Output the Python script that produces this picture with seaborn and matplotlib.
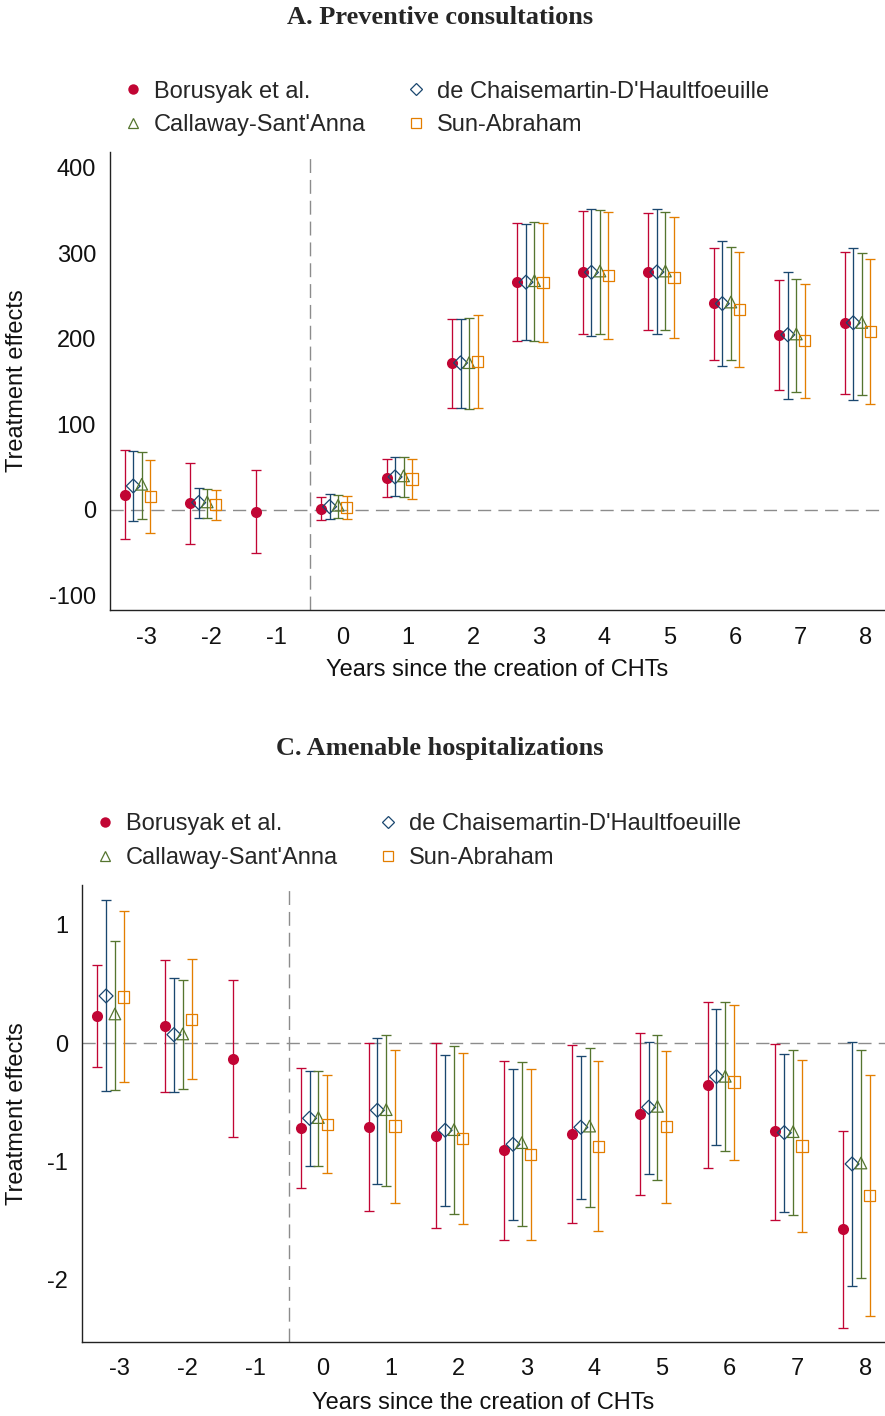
import numpy as np
import pandas as pd
import matplotlib
matplotlib.use("Agg")
import matplotlib.pyplot as plt
import seaborn as sns
from matplotlib.lines import Line2D

# ---------------- data ----------------
nan = np.nan
years = [-3, -2, -1, 0, 1, 2, 3, 4, 5, 6, 7, 8]
estimators = ["Borusyak et al.", "de Chaisemartin-D'Haultfoeuille",
              "Callaway-Sant'Anna", "Sun-Abraham"]

# A. Preventive consultations
bor_a = [17.6, 7.8, -2.0, 1.2, 37.8, 171.3, 266.2, 277.5, 277.9, 241.2, 204.6, 218.6]
bor_a_lo = [-34, -40, -50.7, -11.7, 15.2, 119, 197, 205.7, 209.6, 175.6, 140.5, 135.8]
bor_a_hi = [70, 55, 46.4, 14.8, 60, 222.5, 334.9, 349.3, 346.2, 306.4, 268.5, 301]
dcdh_a = [28, 8.6, nan, 3.9, 38.6, 171.7, 266, 277.5, 277.9, 241, 204.6, 218.6]
dcdh_a_lo = [-12.5, -9.8, nan, -10.5, 16.4, 119, 198.3, 203.7, 205.3, 168.6, 130, 128]
dcdh_a_hi = [69, 25.8, nan, 18.4, 61.3, 223.3, 334, 352, 351.6, 314.2, 278.3, 306]
cs_a = [30, 9.4, nan, 5.5, 39.8, 172, 267.7, 279, 279, 242.8, 205.5, 219]
cs_a_lo = [-11, -9, nan, -9.8, 15.6, 118, 197, 205.7, 209.6, 174.8, 138, 134.2]
cs_a_hi = [68, 25, nan, 17.5, 62.4, 224.5, 335.7, 350.5, 347.4, 307.5, 270.2, 299.8]
sa_a = [15.6, 6.2, nan, 3.1, 36.3, 173.3, 265.4, 273.6, 271.7, 234.2, 197.9, 208.8]
sa_a_lo = [-27, -11.7, nan, -11, 12.9, 119.4, 195.9, 200.2, 201, 167, 130.8, 123.8]
sa_a_hi = [58.5, 23.8, nan, 16.8, 60, 227.5, 335.3, 347.4, 342.3, 301.7, 264.3, 293.1]

# C. Amenable hospitalizations
bor_c = [0.231, 0.146, -0.13, -0.719, -0.707, -0.78, -0.904, -0.763, -0.6, -0.355, -0.744, -1.572]
bor_c_lo = [-0.2, -0.414, -0.792, -1.226, -1.417, -1.56, -1.665, -1.519, -1.285, -1.057, -1.49, -2.404]
bor_c_hi = [0.662, 0.704, 0.532, -0.211, 0.003, 0.006, -0.152, -0.011, 0.087, 0.346, -0.003, -0.738]
dcdh_c = [0.4, 0.073, nan, -0.634, -0.566, -0.735, -0.854, -0.71, -0.541, -0.282, -0.755, -1.02]
dcdh_c_lo = [-0.403, -0.408, nan, -1.04, -1.186, -1.375, -1.49, -1.316, -1.102, -0.856, -1.423, -2.054]
dcdh_c_hi = [1.209, 0.552, nan, -0.234, 0.048, -0.096, -0.217, -0.11, 0.011, 0.293, -0.09, 0.011]
cs_c = [0.248, 0.079, nan, -0.628, -0.561, -0.73, -0.84, -0.70, -0.533, -0.279, -0.747, -1.012]
cs_c_lo = [-0.397, -0.386, nan, -1.04, -1.203, -1.446, -1.547, -1.384, -1.152, -0.913, -1.451, -1.986]
cs_c_hi = [0.868, 0.532, nan, -0.234, 0.068, -0.025, -0.16, -0.04, 0.068, 0.349, -0.059, -0.053]
sa_c = [0.391, 0.203, nan, -0.685, -0.699, -0.803, -0.938, -0.871, -0.704, -0.327, -0.868, -1.287]
sa_c_lo = [-0.33, -0.304, nan, -1.1, -1.347, -1.524, -1.665, -1.587, -1.35, -0.983, -1.592, -2.308]
sa_c_hi = [1.116, 0.71, nan, -0.268, -0.053, -0.082, -0.217, -0.152, -0.062, 0.327, -0.141, -0.265]

yticks_a = [-100, 0, 100, 200, 300, 400]
yticks_c = [-2, -1, 0, 1]

# ---------------- tidy frame ----------------
rows = []
series = {
    "A": [(bor_a, bor_a_lo, bor_a_hi), (dcdh_a, dcdh_a_lo, dcdh_a_hi),
          (cs_a, cs_a_lo, cs_a_hi), (sa_a, sa_a_lo, sa_a_hi)],
    "C": [(bor_c, bor_c_lo, bor_c_hi), (dcdh_c, dcdh_c_lo, dcdh_c_hi),
          (cs_c, cs_c_lo, cs_c_hi), (sa_c, sa_c_lo, sa_c_hi)],
}
for panel, lst in series.items():
    for name, (est, lo, hi) in zip(estimators, lst):
        for yr, e, l, h in zip(years, est, lo, hi):
            rows.append({"panel": panel, "estimator": name, "year": yr, "est": e, "lo": l, "hi": h})
df = pd.DataFrame(rows).dropna()

# ---------------- style ----------------
sns.set_theme(style="white")
plt.rcParams["font.family"] = ["Liberation Sans", "DejaVu Sans"]

colors = {"Borusyak et al.": "#C10534", "de Chaisemartin-D'Haultfoeuille": "#1A476F",
          "Callaway-Sant'Anna": "#55752F", "Sun-Abraham": "#E37E00"}
markers = {"Borusyak et al.": "o", "de Chaisemartin-D'Haultfoeuille": "D",
           "Callaway-Sant'Anna": "^", "Sun-Abraham": "s"}
sizes = {"Borusyak et al.": 64, "de Chaisemartin-D'Haultfoeuille": 50,
         "Callaway-Sant'Anna": 70, "Sun-Abraham": 66}
offsets = {"Borusyak et al.": -0.325, "de Chaisemartin-D'Haultfoeuille": -0.195,
           "Callaway-Sant'Anna": -0.065, "Sun-Abraham": 0.065}
FS = 17

fig = plt.figure(figsize=(8.85, 14.16), dpi=100)
ax_a = fig.add_axes([110 / 885, 1 - 610 / 1416, 775 / 885, 458 / 1416])
ax_c = fig.add_axes([82 / 885, 1 - 1342 / 1416, 803 / 885, 457 / 1416])


def draw_panel(ax, panel, ylim, yticks, xpad, lpad):
    ax.axhline(0, color="#8c8c8c", lw=1.0, ls=(0, (9.5, 5.2)), zorder=1)
    ax.axvline(-0.5, color="#8c8c8c", lw=1.0, ls=(0, (10, 5)), zorder=1)
    for name in estimators:
        d = df[(df["panel"] == panel) & (df["estimator"] == name)]
        x = d["year"] + offsets[name]
        c = colors[name]
        ax.errorbar(x, d["est"], yerr=[d["est"] - d["lo"], d["hi"] - d["est"]],
                    fmt="none", ecolor=c, elinewidth=0.95, capsize=3.7, capthick=0.95, zorder=2)
        filled = name == "Borusyak et al."
        sns.scatterplot(x=x.values, y=d["est"].values, ax=ax, marker=markers[name],
                        s=sizes[name], color=c, facecolor=c if filled else "none",
                        edgecolor=c, linewidth=0 if filled else 0.9, zorder=3, legend=False)
    ax.set_xlim(-3.55, 8.29)
    ax.set_ylim(*ylim)
    ax.set_xticks(years)
    ax.set_xticklabels([str(y) for y in years])
    ax.set_yticks(yticks)
    ax.set_yticklabels([str(t) for t in yticks])
    ax.tick_params(axis="y", length=0, labelsize=FS, colors="#111111", pad=10)
    ax.tick_params(axis="x", length=0, labelsize=FS, colors="#111111", pad=xpad)
    ax.set_xlabel("Years since the creation of CHTs", fontsize=FS, labelpad=lpad, color="#111111")
    ax.set_ylabel("Treatment effects", fontsize=FS, color="#111111")
    sns.despine(ax=ax)
    for sp in ["left", "bottom"]:
        ax.spines[sp].set_color("#222222")
        ax.spines[sp].set_linewidth(1.0)


draw_panel(ax_a, "A", (-116.8, 418), yticks_a, 12.5, 7)
draw_panel(ax_c, "C", (-2.525, 1.338), yticks_c, 11.5, 9)
ax_a.yaxis.set_label_coords((28 - 110) / 775, 0.5)
ax_c.yaxis.set_label_coords((28 - 82) / 803, 0.5)

# titles
fig.text(440 / 885, 1 - 17 / 1416, "A. Preventive consultations", ha="center", va="center",
         fontsize=19, fontweight="bold", family=["Liberation Serif", "DejaVu Serif"])
fig.text(440 / 885, 1 - 748 / 1416, "C. Amenable hospitalizations", ha="center", va="center",
         fontsize=19, fontweight="bold", family=["Liberation Serif", "DejaVu Serif"])

# legends
leg_sizes = {"Borusyak et al.": 7.5, "de Chaisemartin-D'Haultfoeuille": 6.5,
             "Callaway-Sant'Anna": 7.5, "Sun-Abraham": 7}
order = ["Borusyak et al.", "Callaway-Sant'Anna", "de Chaisemartin-D'Haultfoeuille", "Sun-Abraham"]
handles = []
for name in order:
    filled = name == "Borusyak et al."
    handles.append(Line2D([], [], ls="none", marker=markers[name], ms=leg_sizes[name],
                          color=colors[name], mfc=colors[name] if filled else "none",
                          mec=colors[name], mew=0 if filled else 0.9))
for anchor in [(121 / 885, 1 - 108.5 / 1416), (93 / 885, 1 - 841 / 1416)]:
    fig.legend(handles, order, loc="center left", bbox_to_anchor=anchor, ncol=2,
               frameon=False, fontsize=FS, handlelength=1.0, handletextpad=0.38,
               columnspacing=1.62, labelspacing=0.5, borderpad=0, borderaxespad=0)

fig.savefig("out.png", dpi=100)
